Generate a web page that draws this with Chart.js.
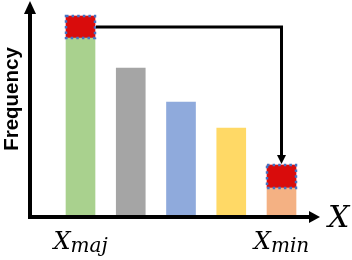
<!DOCTYPE html>
<html><head><meta charset="utf-8">
<script src="https://cdn.jsdelivr.net/npm/chart.js@4"></script>
<style>html,body{margin:0;padding:0;background:#fff}canvas{display:block}</style>
</head><body>
<canvas id="c" width="352" height="260"></canvas>
<script>
const categories = ['X_maj', 'C2', 'C3', 'C4', 'X_min'];
const positions = [0, 1, 2, 3, 4];
const baseCounts = [177, 147, 113, 87, 27];
const highlightCounts = [22, null, null, null, 23];
const barColors = ['#A9D18E', '#A5A5A5', '#8FAADC', '#FFD966', '#F4B183'];
const highlightColor = '#D90C0C';
const highlightBorder = '#4472C4';
const tickLabels = [{main: 'X', sub: 'maj'}, null, null, null, {main: 'X', sub: 'min'}];
const axisTitleX = 'X';
const axisTitleY = 'Frequency';

function arrowHead(ctx, tipX, tipY, dir, len, half) {
  ctx.beginPath();
  if (dir === 'up') { ctx.moveTo(tipX, tipY); ctx.lineTo(tipX - half, tipY + len); ctx.lineTo(tipX + half, tipY + len); }
  if (dir === 'down') { ctx.moveTo(tipX, tipY); ctx.lineTo(tipX - half, tipY - len); ctx.lineTo(tipX + half, tipY - len); }
  if (dir === 'right') { ctx.moveTo(tipX, tipY); ctx.lineTo(tipX - len, tipY - half); ctx.lineTo(tipX - len, tipY + half); }
  ctx.closePath();
  ctx.fill();
}

const decor = {
  id: 'decor',
  afterDatasetsDraw(chart) {
    const ctx = chart.ctx;
    const a = chart.chartArea;
    const xs = chart.scales.x;
    ctx.save();
    // highlighted boxes with dotted border
    const hm = chart.getDatasetMeta(1);
    const boxes = [];
    hm.data.forEach((el, i) => {
      if (highlightCounts[i] == null) return;
      const p = el.getProps(['x', 'y', 'base', 'width'], true);
      const l = p.x - p.width / 2, r = p.x + p.width / 2;
      boxes.push({l, r, t: p.y, b: p.base, cx: p.x});
      ctx.strokeStyle = highlightBorder;
      ctx.lineWidth = 2.5;
      ctx.setLineDash([2.5, 3.1]);
      ctx.strokeRect(l, p.y, r - l, p.base - p.y);
    });
    ctx.setLineDash([]);
    // connector from majority highlight to minority highlight
    if (boxes.length >= 2) {
      const s = boxes[0], e = boxes[boxes.length - 1];
      const ly = (s.t + s.b) / 2;
      ctx.strokeStyle = '#000';
      ctx.fillStyle = '#000';
      ctx.lineWidth = 3;
      ctx.beginPath();
      ctx.moveTo(s.r + 1, ly);
      ctx.lineTo(e.cx, ly);
      ctx.lineTo(e.cx, e.t - 8);
      ctx.stroke();
      arrowHead(ctx, e.cx, e.t - 1, 'down', 9, 4.5);
    }
    // axes with arrows
    ctx.strokeStyle = '#000';
    ctx.fillStyle = '#000';
    ctx.lineWidth = 4;
    ctx.beginPath();
    ctx.moveTo(a.left, a.bottom + 4);
    ctx.lineTo(a.left, a.top + 11);
    ctx.moveTo(a.left - 2, a.bottom + 2);
    ctx.lineTo(a.right - 9, a.bottom + 2);
    ctx.stroke();
    arrowHead(ctx, a.left, a.top - 1, 'up', 13, 6);
    arrowHead(ctx, a.right, a.bottom + 2, 'right', 11, 6);
    // tick labels with subscripts
    tickLabels.forEach((t, i) => {
      if (!t) return;
      const cx = xs.getPixelForValue(positions[i]);
      ctx.font = 'italic 24px "DejaVu Serif"';
      const wm = ctx.measureText(t.main).width;
      ctx.font = 'italic 20px "DejaVu Serif"';
      const ws = ctx.measureText(t.sub).width;
      const x0 = cx - (wm + ws) / 2;
      ctx.textBaseline = 'alphabetic';
      ctx.textAlign = 'left';
      ctx.font = 'italic 24px "DejaVu Serif"';
      ctx.fillText(t.main, x0, a.bottom + 34);
      ctx.font = 'italic 20px "DejaVu Serif"';
      ctx.fillText(t.sub, x0 + wm, a.bottom + 37);
    });
    // axis titles
    ctx.font = 'italic 30px "DejaVu Serif"';
    ctx.textAlign = 'left';
    ctx.textBaseline = 'alphabetic';
    ctx.fillText(axisTitleX, a.right + 8, a.bottom + 12);
    ctx.save();
    ctx.translate(18, 99);
    ctx.rotate(-Math.PI / 2);
    ctx.font = 'bold 20.5px "Liberation Sans"';
    ctx.textAlign = 'center';
    ctx.fillText(axisTitleY, 0, 0);
    ctx.restore();
    ctx.restore();
  }
};

new Chart(document.getElementById('c'), {
  type: 'bar',
  data: {
    labels: categories,
    datasets: [
      {
        data: positions.map((x, i) => ({x, y: baseCounts[i]})),
        backgroundColor: barColors,
        barThickness: 29,
        stack: 's'
      },
      {
        data: positions.map((x, i) => ({x, y: highlightCounts[i]})),
        backgroundColor: highlightColor,
        barThickness: 29,
        stack: 's'
      }
    ]
  },
  options: {
    responsive: false,
    animation: false,
    layout: {padding: {left: 30, right: 32, top: 2, bottom: 45}},
    plugins: {legend: {display: false}, tooltip: {enabled: false}},
    scales: {
      x: {type: 'linear', min: -1.005, max: 4.766, offset: false, stacked: true, display: false},
      y: {min: 0, max: 213, stacked: true, display: false}
    }
  },
  plugins: [decor]
});
</script>
</body></html>
